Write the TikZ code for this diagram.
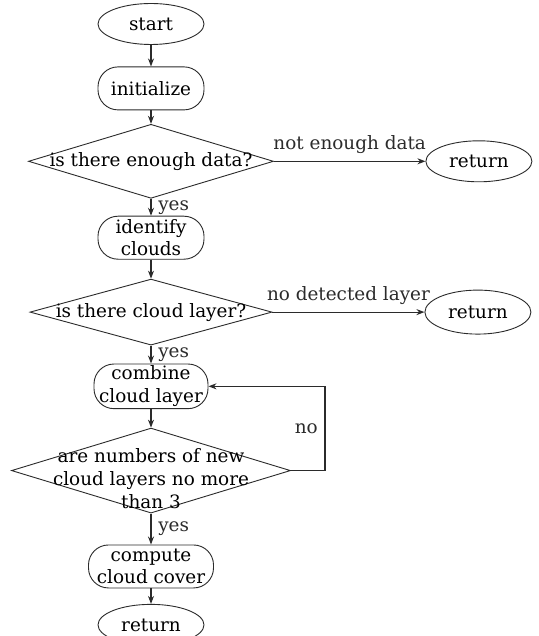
\documentclass[tikz,border=0pt]{standalone}
\usepackage{fontspec}
\setmainfont{DejaVu Serif}
\usetikzlibrary{positioning,shapes.geometric,arrows.meta}
\definecolor{ink}{HTML}{2B2B2B}
\newcommand\chartfont{\fontsize{9.2}{11.3}\selectfont}
\tikzset{
  term/.style={ellipse,draw=ink,line width=0.45pt,inner sep=0pt,
    minimum width=53pt,minimum height=20.5pt,font=\chartfont},
  box/.style={rectangle,draw=ink,line width=0.45pt,rounded corners=10pt,
    align=center,inner sep=1pt,minimum width=53pt,minimum height=21.5pt,font=\chartfont},
  dec/.style={diamond,draw=ink,line width=0.45pt,inner sep=0pt},
  every label/.style={font=\chartfont,align=center,inner sep=0pt},
  lbl/.style={font=\chartfont,text=ink},
  fl/.style={-{Stealth[length=4pt,width=3pt]},draw=ink,line width=0.6pt},
}
\begin{document}
\begin{tikzpicture}[node distance=9pt]
  \useasboundingbox[fill=white] (-75.5pt,12pt) rectangle (194pt,-306pt);
  \node[term] (start) {start};
  \node[box,below=10.75pt of start] (init) {initialize};
  \node[dec,minimum width=122.5pt,minimum height=37pt,below=6.75pt of init,
    label={center:is there enough data?}] (d1) {};
  \node[term,right=75.75pt of d1] (r1) {return};
  \node[box,below=8.5pt of d1] (ident) {identify\\clouds};
  \node[dec,minimum width=121pt,minimum height=33pt,below=9.5pt of ident,
    label={center:is there cloud layer?}] (d2) {};
  \node[term,minimum height=22pt,right=76pt of d2] (r2) {return};
  \node[box,minimum width=57pt,minimum height=22pt,below=9pt of d2] (comb) {combine\\cloud layer};
  \node[dec,minimum width=139.5pt,minimum height=42.5pt,below=9.25pt of comb,
    label={[yshift=-4pt]center:are numbers of new\\cloud layers no more\\than 3}] (d3) {};
  \node[box,minimum width=62.5pt,below=15.5pt of d3] (comp) {compute\\cloud cover};
  \node[term,below=7.75pt of comp] (r3) {return};
  \draw[fl] (start) -- (init);
  \draw[fl] (init) -- (d1);
  \draw[fl] (d1) -- node[above,lbl]{not enough data} (r1);
  \draw[fl] (d1) -- node[right,lbl]{yes} (ident);
  \draw[fl] (ident) -- (d2);
  \draw[fl] (d2) -- node[above,lbl]{no detected layer} (r2);
  \draw[fl] (d2) -- node[right,lbl]{yes} (comb);
  \draw[fl] (comb) -- (d3);
  \draw[fl] (d3.east) -- ++(17pt,0) |- node[pos=0.25,left,lbl]{no} (comb.east);
  \draw[fl] (d3) -- node[right,lbl]{yes} (comp);
  \draw[fl] (comp) -- (r3);
\end{tikzpicture}
\end{document}
